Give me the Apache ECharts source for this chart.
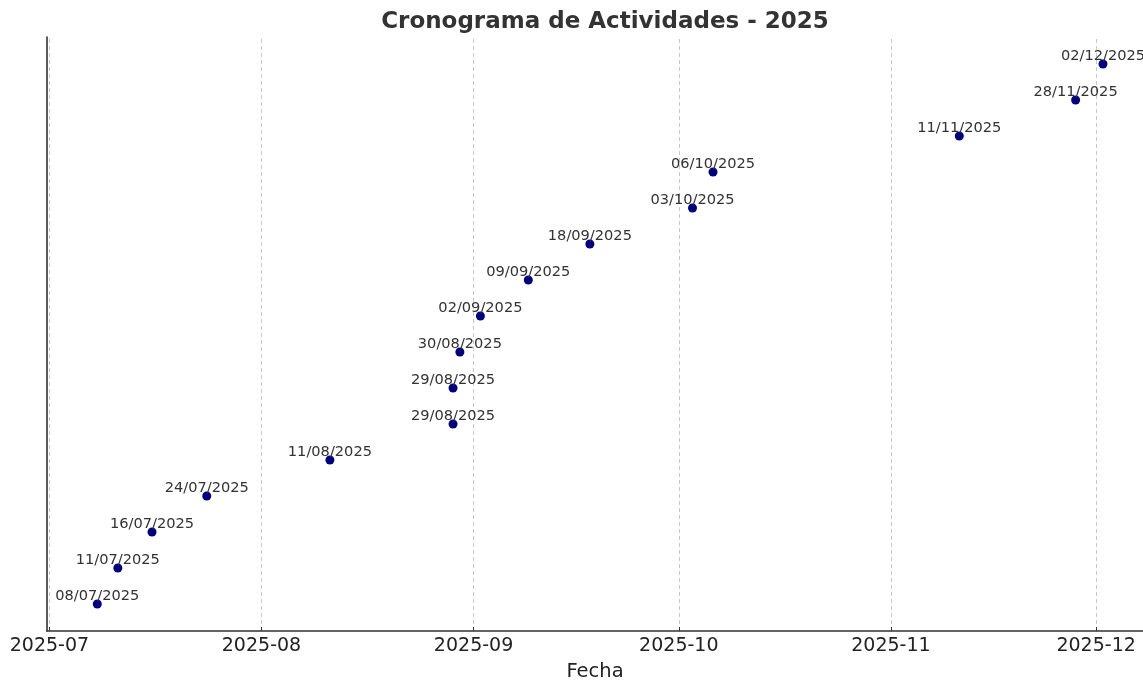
<!DOCTYPE html>
<html>
<head>
<meta charset="utf-8">
<script src="https://cdn.jsdelivr.net/npm/echarts@6/dist/echarts.min.js"></script>
<style>html,body{margin:0;padding:0;background:#fff}#c{width:1143px;height:681px}</style>
</head>
<body>
<div id="c"></div>
<script>
// Activity dates (YYYY-MM-DD), in plotted order (index = y position)
const activityDates = [
  '2025-07-08','2025-07-11','2025-07-16','2025-07-24','2025-08-11',
  '2025-08-29','2025-08-29','2025-08-30','2025-09-02','2025-09-09',
  '2025-09-18','2025-10-03','2025-10-06','2025-11-11','2025-11-28',
  '2025-12-02'
];
// Month tick positions
const monthTicks = ['2025-07-01','2025-08-01','2025-09-01','2025-10-01','2025-11-01','2025-12-01'];
const titleText = 'Cronograma de Actividades - 2025';
const xAxisName = 'Fecha';

function toTime(s){ const p = s.split('-').map(Number); return new Date(p[0], p[1]-1, p[2]).getTime(); }
function pad(n){ return (n<10?'0':'')+n; }
function dmy(t){ const d = new Date(t); return pad(d.getDate())+'/'+pad(d.getMonth()+1)+'/'+d.getFullYear(); }
function ym(t){ const d = new Date(t + 43200000); return d.getFullYear()+'-'+pad(d.getMonth()+1); }

const DAY = 86400000;
const times = activityDates.map(toTime);
const tMin = Math.min(...times), tMax = Math.max(...times);
const span = tMax - tMin;
const xMin = tMin - 0.05*span;               // matplotlib-like margin
const xMax = tMax + 0.05*span - 1.5*DAY;     // figure is cropped at the right edge
const tickTimes = monthTicks.map(toTime);
const nPts = activityDates.length;
const yPad = 0.05*(nPts-1);

const data = times.map((t,i)=>[t,i]);

const chart = echarts.init(document.getElementById('c'), null, {renderer:'canvas'});
chart.setOption({
  animation:false,
  backgroundColor:'#fff',
  title:{
    text:titleText, left:600, top:6, textAlign:'center',
    textStyle:{fontFamily:'DejaVu Sans', fontWeight:'bold', fontSize:23, color:'#333'}
  },
  grid:{left:47, right:0, top:37, bottom:50, containLabel:false, outerBoundsMode:'none'},
  xAxis:{
    type:'value', min:xMin, max:xMax, scale:true,
    name:xAxisName, nameLocation:'middle', nameGap:31,
    nameTextStyle:{fontFamily:'DejaVu Sans', fontSize:19.5, color:'#222'},
    axisLine:{show:true, onZero:false, lineStyle:{color:'#333', width:1.6}},
    axisTick:{show:true, customValues:tickTimes, length:4, inside:true, lineStyle:{color:'#333'}},
    axisLabel:{customValues:tickTimes, formatter:(v)=>ym(v), fontFamily:'DejaVu Sans', fontSize:19, color:'#222', margin:6},
    splitLine:{show:false}
  },
  yAxis:{
    type:'value', min:-yPad, max:(nPts-1)+yPad,
    axisLine:{show:true, onZero:false, lineStyle:{color:'#333', width:1.6}},
    axisTick:{show:false}, axisLabel:{show:false}, splitLine:{show:false}
  },
  series:[{
    type:'scatter', data:data, symbol:'circle', symbolSize:9,
    itemStyle:{color:'#000080', opacity:1},
    label:{show:true, position:'inside', offset:[0,-8], formatter:(p)=>dmy(p.value[0]),
      fontFamily:'DejaVu Sans', fontSize:14.6, color:'#333', opacity:1},
    markLine:{
      silent:true, symbol:'none', label:{show:false}, z:0,
      lineStyle:{type:[4,3], color:'#c8c8c8', width:1},
      data: tickTimes.map(t=>({xAxis:t}))
    },
    z:3
  }]
});
</script>
</body>
</html>
